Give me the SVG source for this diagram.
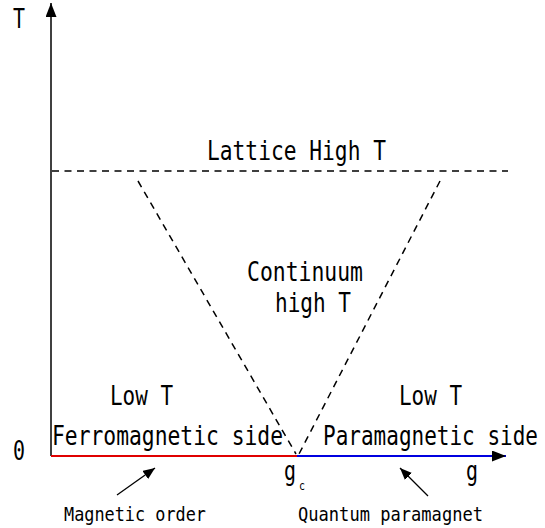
<svg xmlns="http://www.w3.org/2000/svg" width="545" height="528" viewBox="0 0 545 528">
<style>
.t{font-family:"DejaVu Sans Mono","Liberation Mono",monospace;font-size:26px;fill:#000}
.s{font-family:"DejaVu Sans Mono","Liberation Mono",monospace;font-size:20px;fill:#000}
.d{stroke:#000;stroke-width:1.5;stroke-dasharray:7,5.5;fill:none}
.a{stroke:#000;stroke-width:1.3;fill:none}
</style>
<defs>
<marker id="ah" markerWidth="12" markerHeight="10" refX="12" refY="5" orient="auto" markerUnits="userSpaceOnUse"><path d="M0,0 L12,5 L0,10 Z" fill="#000"/></marker>
<marker id="big" markerWidth="14" markerHeight="11" refX="14" refY="5.5" orient="auto" markerUnits="userSpaceOnUse"><path d="M0,0 L14,5.5 L0,11 Z" fill="#000"/></marker>
</defs>
<g id="axes">
<line x1="51" y1="456" x2="51" y2="3" stroke="#000" stroke-width="1.5" marker-end="url(#big)"/>
<line x1="51" y1="456" x2="297" y2="456" stroke="#e00000" stroke-width="2"/>
<line x1="297" y1="456" x2="506" y2="456" stroke="#0000e0" stroke-width="2" marker-end="url(#big)"/>
</g>
<g id="connectors">
<line class="d" x1="52" y1="171" x2="508" y2="171"/>
<line class="d" x1="138" y1="181" x2="296" y2="454"/>
<line class="d" x1="440" y1="181" x2="299" y2="454"/>
<line class="a" x1="117" y1="495" x2="155" y2="468" marker-end="url(#ah)"/>
<line class="a" x1="428" y1="496" x2="400" y2="468" marker-end="url(#ah)"/>
</g>
<g id="labels">
<text class="t" x="13" y="28" textLength="12" lengthAdjust="spacingAndGlyphs">T</text>
<text class="t" x="13" y="460" textLength="12" lengthAdjust="spacingAndGlyphs">0</text>
<text class="t" x="207" y="160" textLength="179" lengthAdjust="spacingAndGlyphs">Lattice High T</text>
<text class="t" x="247" y="281" textLength="116" lengthAdjust="spacingAndGlyphs">Continuum</text>
<text class="t" x="275" y="312" textLength="76" lengthAdjust="spacingAndGlyphs">high T</text>
<text class="t" x="110" y="405" textLength="63" lengthAdjust="spacingAndGlyphs">Low T</text>
<text class="t" x="399" y="405" textLength="63" lengthAdjust="spacingAndGlyphs">Low T</text>
<text class="t" x="52" y="445" textLength="231" lengthAdjust="spacingAndGlyphs">Ferromagnetic side</text>
<text class="t" x="323" y="445" textLength="215" lengthAdjust="spacingAndGlyphs">Paramagnetic side</text>
<text class="t" x="284" y="480" textLength="12" lengthAdjust="spacingAndGlyphs">g</text>
<text x="299" y="490" style="font-family:'DejaVu Sans Mono',monospace;font-size:12px" textLength="6" lengthAdjust="spacingAndGlyphs">c</text>
<text class="t" x="466" y="480" textLength="12" lengthAdjust="spacingAndGlyphs">g</text>
<text class="s" x="64" y="521" textLength="142" lengthAdjust="spacingAndGlyphs">Magnetic order</text>
<text class="s" x="298" y="521" textLength="185" lengthAdjust="spacingAndGlyphs">Quantum paramagnet</text>
</g>
</svg>
